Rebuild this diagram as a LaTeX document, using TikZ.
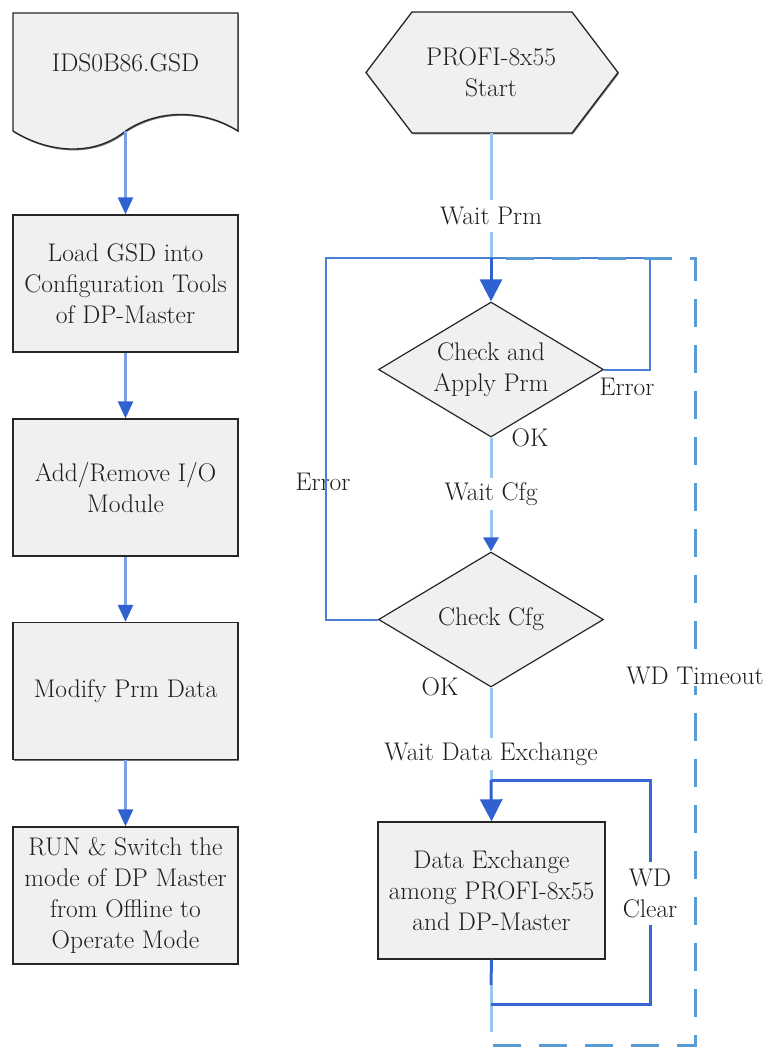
\documentclass[tikz,border=0pt]{standalone}
\usepackage{fontspec}
\usetikzlibrary{arrows.meta,shapes.geometric,shadows}
\definecolor{boxfill}{HTML}{F0F0F0}
\definecolor{textgray}{HTML}{1E1E1E}
\definecolor{lightblue}{HTML}{9CC6EC}
\definecolor{leftblue}{HTML}{7DA2E4}
\definecolor{loopblue}{HTML}{4A7FD6}
\definecolor{darkblue}{HTML}{2F62D0}
\definecolor{dxblue}{HTML}{3568D4}
\definecolor{dashblue}{HTML}{5B9BD5}
\begin{document}
\begin{tikzpicture}[x=1pt,y=-1pt,
  txt/.style={text=textgray,font=\fontsize{25.5}{31}\selectfont,align=center,inner sep=0pt},
  gaplbl/.style={txt,minimum height=32pt},
  shapeline/.style={draw=black!85,line width=1.3pt,fill=boxfill,
    drop shadow={shadow xshift=0.8pt,shadow yshift=-1.4pt,fill=black!55,opacity=1}},
  box/.style={txt,rectangle,shapeline,minimum width=225pt,minimum height=137pt},
  dia/.style={txt,diamond,aspect=1.667,draw=black!85,line width=1.2pt,fill=boxfill,
    minimum width=225pt,minimum height=135pt},
  leftarrow/.style={draw=leftblue,line width=2.5pt,
    -{Triangle[width=15pt,length=17pt,color=darkblue]}},
  mainline/.style={draw=lightblue,line width=3pt},
  loopline/.style={draw=loopblue,line width=2pt},
  dxline/.style={draw=dxblue,line width=3pt},
  bigarrow/.style={draw=darkblue,line width=3pt,
    -{Triangle[width=22pt,length=22pt,color=darkblue]}},
  dashline/.style={draw=dashblue,line width=3pt,dash pattern=on 28pt off 18pt}
]
\useasboundingbox (0,0) rectangle (764,1047);

% ---------- left column ----------
\draw[shapeline] (13,13) -- (238,13) -- (238,131)
  .. controls (205,110) and (160,108) .. (125.5,131)
  .. controls (95,156) and (50,154) .. (13,131) -- cycle;
\node[txt] (gsd) at (125.5,63) {IDS0B86.GSD};
\coordinate (gsdb) at (125.5,131);

\node[box] (load) at (125.5,283.5) {Load GSD into\\Configuration Tools\\of DP-Master};
\node[box] (add) at (125.5,487.5) {Add/Remove I/O\\Module};
\node[box] (mod) at (125.5,691) {Modify Prm Data};
\node[box] (run) at (125.5,895.5) {RUN \& Switch the\\mode of DP Master\\from Offline to\\Operate Mode};

\draw[leftarrow] (gsdb) -- (load.north);
\draw[leftarrow] (load.south) -- (add.north);
\draw[leftarrow] (add.south) -- (mod.north);
\draw[leftarrow] (mod.south) -- (run.north);

% ---------- right column ----------
\draw[shapeline] (366,72.5) -- (412,12) -- (572,12) -- (618,72.5) -- (572,133) -- (412,133) -- cycle;
\node[txt,minimum height=121pt] (start) at (491,72.5) {PROFI-8x55\\Start};

\node[gaplbl] (wprm) at (491,216) {Wait Prm};
\coordinate (j1) at (491,258);
\coordinate (cR) at (650,258);
\coordinate (cL) at (326,258);

\node[dia] (d1) at (491,369.5) {Check and\\Apply Prm};
\node[txt] (err1) at (627,387) {Error};
\node[txt] (ok1) at (530,438) {OK};

\node[gaplbl] (wcfg) at (491,494) {Wait Cfg};
\node[dia] (d2) at (491,619.5) {Check Cfg};
\node[txt] (err2) at (323,482) {Error};
\node[txt] (ok2) at (440,687) {OK};

\node[gaplbl] (wdx) at (491,754) {Wait Data Exchange};
\coordinate (j3) at (491,780);
\coordinate (r3) at (650,780);

\node[box,minimum width=227pt] (dx) at (491.5,890.5) {Data Exchange\\among PROFI-8x55\\and DP-Master};
\node[txt,minimum height=63pt] (wdc) at (650,893.5) {WD\\Clear};
\coordinate (b2) at (491,985);
\coordinate (b3) at (491,1004);
\coordinate (b3r) at (650,1004);
\coordinate (b4) at (491,1032);

\coordinate (t0) at (493,1045);
\coordinate (t1) at (695,1045);
\coordinate (t2) at (695,258);

% connectors
\draw[mainline] (start.south) -- (wprm.north);
\draw[mainline] (wprm.south) -- (j1);
\draw[loopline] (d1.east) -- (cR |- d1.east) -- (cR) -- (j1);
\draw[loopline] (d2.west) -- (cL |- d2.west) -- (cL) -- (j1);
\draw[bigarrow] (j1) -- (d1.north);
\draw[mainline] (d1.south) -- (wcfg.north);
\draw[mainline,-{Triangle[width=15pt,length=14pt,color=darkblue]}] (wcfg.south) -- (d2.north);
\draw[mainline] (d2.south) -- (wdx.north);
\draw[mainline] (wdx.south) -- (j3);
\draw[bigarrow] (j3) -- (dx.north);
\draw[mainline] (b2) -- (b4);
\draw[dxline] (dx.south) -- (b2);
\draw[dxline] (b3) -- (b3r) -- (wdc.south);
\draw[dxline] (wdc.north) -- (r3) -- (j3);

\draw[dashline] (t0) -- (t1) -- (t2) -- (j1);
\node[txt,fill=white,inner ysep=1pt] (wdt) at (695,676) {WD Timeout};
\end{tikzpicture}
\end{document}
